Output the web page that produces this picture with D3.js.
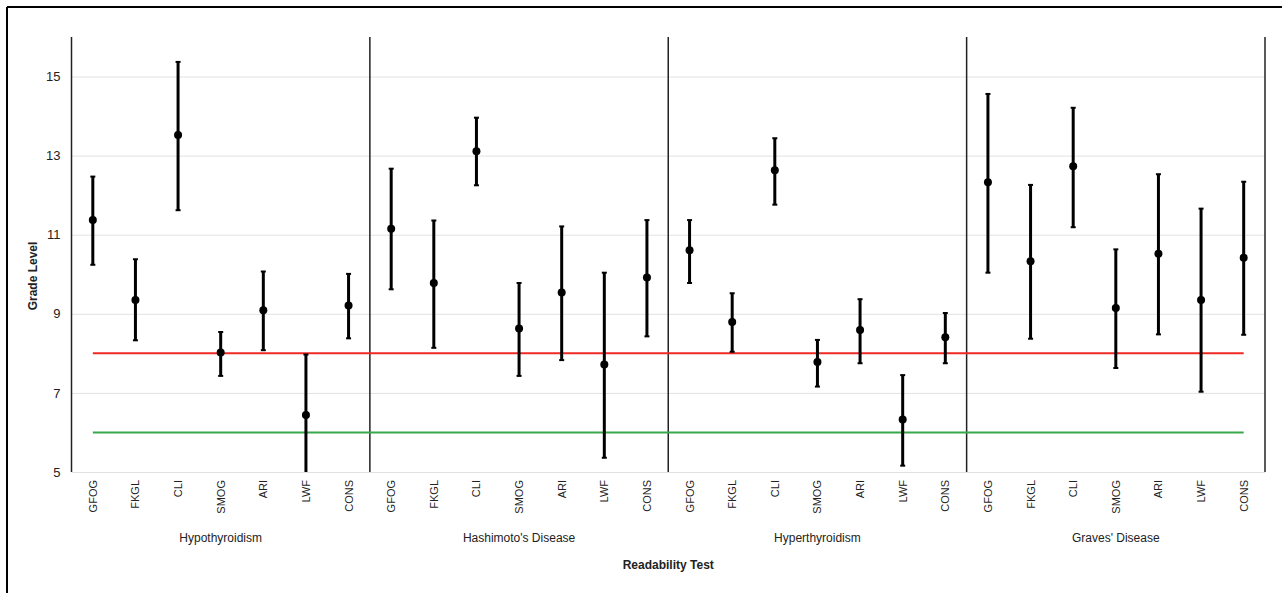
<!DOCTYPE html>
<html lang="en">
<head>
<meta charset="utf-8">
<script src="https://cdn.jsdelivr.net/npm/d3@7"></script>
<style>
  html, body { margin: 0; padding: 0; background: #fff; width: 1282px; height: 593px; }
  text { font-family: "Liberation Sans", Arial, sans-serif; fill: #222; }
  .grid line { stroke: #e2e2e2; stroke-width: 1; }
  .ytick text { font-size: 13px; }
  .xtick text { font-size: 11px; }
  .group-label { font-size: 12px; }
  .axis-title { font-size: 12px; font-weight: bold; }
</style>
</head>
<body>
<svg id="chart" width="1282" height="593" style="display:block"></svg>
<script>
// data
const groups = ["Hypothyroidism", "Hashimoto's Disease", "Hyperthyroidism", "Graves' Disease"];
const tests = ["GFOG", "FKGL", "CLI", "SMOG", "ARI", "LWF", "CONS"];
const yTicks = [5, 7, 9, 11, 13, 15];

// mean grade level and interval per group, order follows tests
const meanHypo = [11.37, 9.35, 13.52, 8.02, 9.09, 6.44, 9.21];
const lowHypo  = [10.24, 8.33, 11.62, 7.43, 8.08, 4.9, 8.38];
const highHypo = [12.47, 10.38, 15.37, 8.54, 10.07, 7.97, 10.01];

const meanHashi = [11.15, 9.78, 13.11, 8.63, 9.54, 7.72, 9.92];
const lowHashi  = [9.62, 8.14, 12.25, 7.43, 7.83, 5.36, 8.43];
const highHashi = [12.67, 11.36, 13.96, 9.78, 11.21, 10.04, 11.37];

const meanHyper = [10.61, 8.79, 12.63, 7.78, 8.59, 6.33, 8.41];
const lowHyper  = [9.78, 8.04, 11.76, 7.16, 7.75, 5.16, 7.75];
const highHyper = [11.37, 9.52, 13.44, 8.34, 9.37, 7.45, 9.02];

const meanGraves = [12.33, 10.33, 12.73, 9.15, 10.52, 9.35, 10.42];
const lowGraves  = [10.04, 8.37, 11.19, 7.63, 8.48, 7.03, 8.47];
const highGraves = [14.56, 12.26, 14.21, 10.63, 12.53, 11.66, 12.34];

const refLines = [{ value: 8, color: "#ee2a24" }, { value: 6, color: "#3aa84a" }];

const means = [meanHypo, meanHashi, meanHyper, meanGraves];
const lows = [lowHypo, lowHashi, lowHyper, lowGraves];
const highs = [highHypo, highHashi, highHyper, highGraves];

const rows = [];
groups.forEach((g, gi) => {
  tests.forEach((t, ti) => {
    rows.push({ group: g, test: t, mean: means[gi][ti], low: lows[gi][ti], high: highs[gi][ti] });
  });
});

const svg = d3.select("#chart");
const margin = { left: 71.5, right: 17, top: 37, bottom: 121 };
const width = 1282, height = 593;
const innerWidth = width - margin.left - margin.right;
const innerHeight = height - margin.top - margin.bottom;

// frame: only its top and left edges fall inside the picture
svg.append("line").attr("x1", 7).attr("x2", width).attr("y1", 7).attr("y2", 7)
  .attr("stroke", "#000").attr("stroke-width", 2);
svg.append("line").attr("x1", 7).attr("x2", 7).attr("y1", 7).attr("y2", height)
  .attr("stroke", "#000").attr("stroke-width", 2);

const g = svg.append("g").attr("transform", `translate(${margin.left},${margin.top})`);

const groupScale = d3.scaleBand().domain(groups).range([0, innerWidth]);
const testScale = d3.scaleBand().domain(tests).range([0, groupScale.bandwidth()]);
const xPos = d => groupScale(d.group) + testScale(d.test) + testScale.bandwidth() / 2;

// clamp so the LWF interval that runs below 5 stops at the axis
const yScale = d3.scaleLinear().domain([5, 16]).range([innerHeight, 0]).clamp(true);

// grid
const yAxis = d3.axisLeft(yScale).tickValues(yTicks).tickSize(-innerWidth).tickPadding(11);
const yAxisG = g.append("g").attr("class", "grid ytick").call(yAxis);
yAxisG.select(".domain").remove();

// group separators
g.selectAll(".sep").data(groups.concat(["end"]))
  .enter().append("line")
  .attr("class", "sep")
  .attr("x1", (d, i) => i < groups.length ? groupScale(d) : innerWidth)
  .attr("x2", (d, i) => i < groups.length ? groupScale(d) : innerWidth)
  .attr("y1", 0).attr("y2", innerHeight)
  .attr("stroke", "#222").attr("stroke-width", 1.5);

// reference lines from first to last category
const first = rows[0], last = rows[rows.length - 1];
g.selectAll(".ref").data(refLines)
  .enter().append("line")
  .attr("class", "ref")
  .attr("x1", xPos(first)).attr("x2", xPos(last))
  .attr("y1", d => yScale(d.value)).attr("y2", d => yScale(d.value))
  .attr("stroke", d => d.color).attr("stroke-width", 2);

// error bars
g.selectAll(".err").data(rows)
  .enter().append("line")
  .attr("class", "err")
  .attr("x1", xPos).attr("x2", xPos)
  .attr("y1", d => yScale(d.low)).attr("y2", d => yScale(d.high))
  .attr("stroke", "#000").attr("stroke-width", 3);

// caps only where the interval end is inside the axis range
const caps = rows.flatMap(d => [{ d, v: d.high }, { d, v: d.low }])
  .filter(c => c.v >= 5);
g.selectAll(".cap").data(caps)
  .enter().append("line")
  .attr("class", "cap")
  .attr("x1", c => xPos(c.d) - 2.5).attr("x2", c => xPos(c.d) + 2.5)
  .attr("y1", c => yScale(c.v)).attr("y2", c => yScale(c.v))
  .attr("stroke", "#000").attr("stroke-width", 2);

g.selectAll(".pt").data(rows)
  .enter().append("circle")
  .attr("class", "pt")
  .attr("cx", xPos).attr("cy", d => yScale(d.mean))
  .attr("r", 4).attr("fill", "#000");

// x tick labels
g.append("g").attr("class", "xtick")
  .selectAll("text").data(rows)
  .enter().append("text")
  .attr("transform", d => `translate(${xPos(d) + 4},${innerHeight + 8}) rotate(-90)`)
  .attr("text-anchor", "end")
  .text(d => d.test);

// group labels
g.selectAll(".group-label").data(groups)
  .enter().append("text")
  .attr("class", "group-label")
  .attr("x", d => groupScale(d) + groupScale.bandwidth() / 2)
  .attr("y", innerHeight + 70)
  .attr("text-anchor", "middle")
  .text(d => d);

// axis titles
svg.append("text")
  .attr("class", "axis-title")
  .attr("x", margin.left + innerWidth / 2)
  .attr("y", 569)
  .attr("text-anchor", "middle")
  .text("Readability Test");

svg.append("text")
  .attr("class", "axis-title")
  .attr("transform", "translate(37,276) rotate(-90)")
  .attr("text-anchor", "middle")
  .text("Grade Level");
</script>
</body>
</html>
